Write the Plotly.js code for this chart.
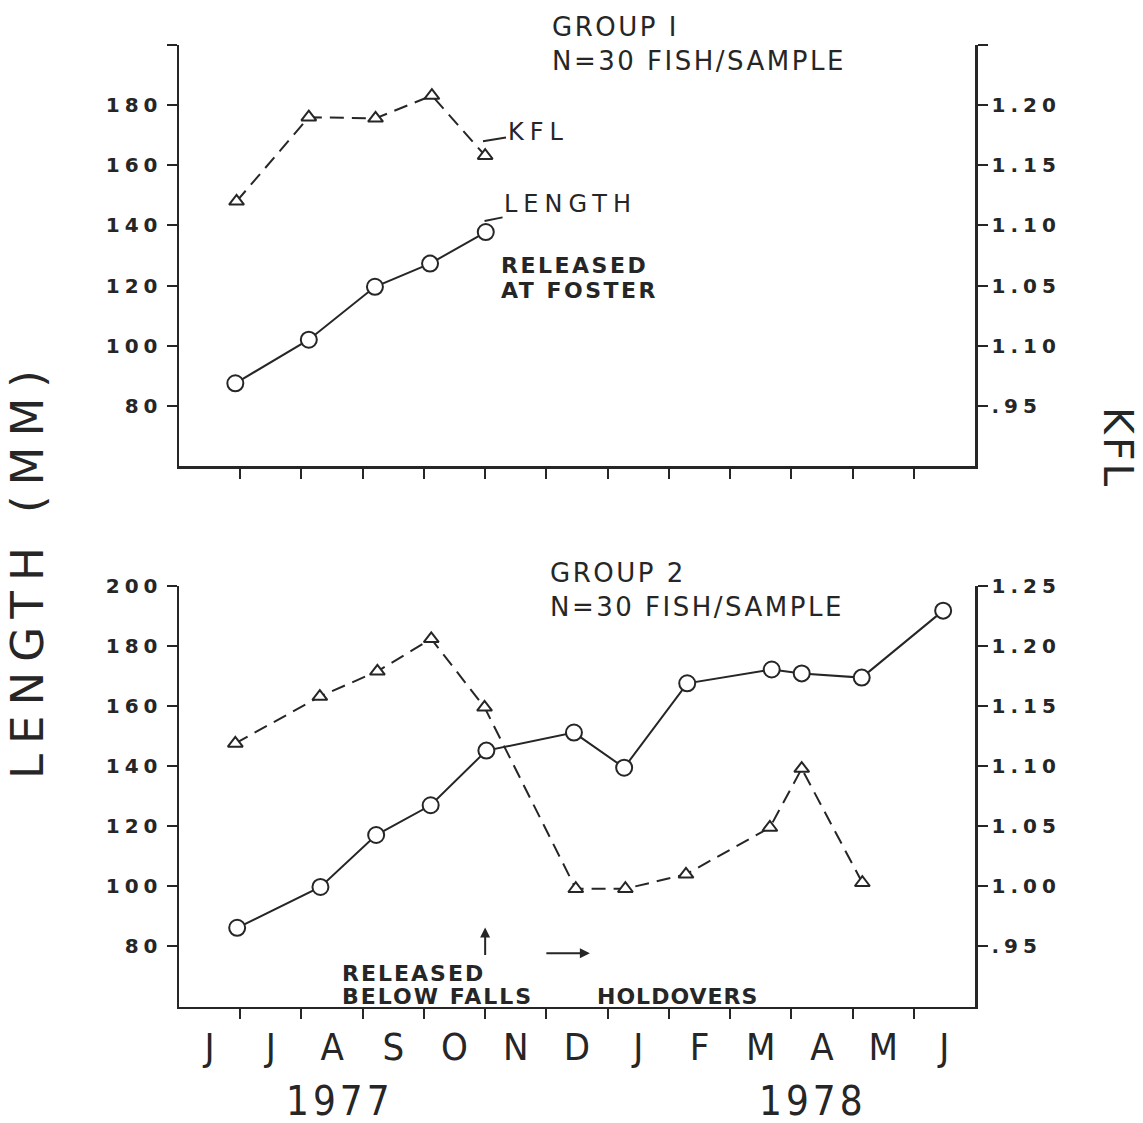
<!DOCTYPE html>
<html>
<head>
<meta charset="utf-8">
<script src="https://cdn.plot.ly/plotly-3.0.1.min.js"></script>
<style>
  html, body { margin: 0; padding: 0; background: #ffffff; }
  #chart { width: 1143px; height: 1123px; }
  g.ytick text, g.y2tick text, g.y3tick text, g.y4tick text { letter-spacing: 5px; }
</style>
</head>
<body>
<div id="chart"></div>
<script>
// ---- DATA (x = months since 1 June 1977) ----
// Group 1
const g1LengthMonth = [0.92, 2.12, 3.20, 4.10, 5.01];
const g1Length      = [87.5, 102.0, 119.6, 127.3, 137.8];
const g1KflMonth    = [0.94, 2.12, 3.21, 4.13, 5.00];
const g1Kfl         = [1.120, 1.190, 1.189, 1.208, 1.158];
// Group 2
const g2LengthMonth = [0.95, 2.31, 3.22, 4.11, 5.02, 6.45, 7.27, 8.30, 9.68, 10.17, 11.15, 12.48];
const g2Length      = [86.2, 99.8, 117.1, 127.0, 145.2, 151.2, 139.5, 167.6, 172.2, 170.9, 169.5, 191.8];
const g2KflMonth    = [0.92, 2.30, 3.24, 4.12, 4.99, 6.48, 7.29, 8.28, 9.65, 10.17, 11.16];
const g2Kfl         = [1.119, 1.158, 1.179, 1.206, 1.149, 0.998, 0.998, 1.010, 1.049, 1.098, 1.003];

// ---- TICKS ----
const monthLabels   = ["J","J","A","S","O","N","D","J","F","M","A","M","J"];
const monthCenters  = [0.5,1.5,2.5,3.5,4.5,5.5,6.5,7.5,8.5,9.5,10.5,11.5,12.5];
const monthBounds   = [1,2,3,4,5,6,7,8,9,10,11,12];
const lengthTickVals      = [80,100,120,140,160,180,200];
const lengthTickTextTop   = ["80","100","120","140","160","180",""];
const lengthTickTextBot   = ["80","100","120","140","160","180","200"];
const kflTickVals         = [0.95,1.00,1.05,1.10,1.15,1.20,1.25];
const kflTickTextTop      = [".95","1.10","1.05","1.10","1.15","1.20",""];
const kflTickTextBot      = [".95","1.00","1.05","1.10","1.15","1.20","1.25"];

const INK = "#262626";
const SANS = "DejaVu Sans, Verdana, sans-serif";
const NARROW = "Liberation Sans Narrow, DejaVu Sans Condensed, Roboto Condensed, Arial Narrow, sans-serif";

function lenTrace(x, y, xa, ya) {
  return { x: x, y: y, xaxis: xa, yaxis: ya, type: "scatter", mode: "lines+markers",
    line: { color: INK, width: 2 },
    marker: { symbol: "circle", size: 16, color: "#ffffff", line: { color: INK, width: 2 } },
    cliponaxis: false, showlegend: false, hoverinfo: "x+y" };
}
function kflTrace(x, y, xa, ya) {
  return { x: x, y: y, xaxis: xa, yaxis: ya, type: "scatter", mode: "lines+markers",
    line: { color: INK, width: 2, dash: "14px,8px" },
    marker: { symbol: "triangle-up", size: 13, color: "#ffffff", line: { color: INK, width: 2 } },
    cliponaxis: false, showlegend: false, hoverinfo: "x+y" };
}

const data = [
  lenTrace(g1LengthMonth, g1Length, "x", "y"),
  kflTrace(g1KflMonth, g1Kfl, "x", "y2"),
  lenTrace(g2LengthMonth, g2Length, "x2", "y3"),
  kflTrace(g2KflMonth, g2Kfl, "x2", "y4")
];

const W = 1143, H = 1123;
const xDom = [179 / W, 975 / W];
const topDom = [1 - 466 / H, 1 - 45 / H];
const botDom = [1 - 1006.5 / H, 1 - 586 / H];

const tickFont = { family: SANS, size: 20, color: INK, weight: "bold" };
const baseAxis = { showgrid: false, zeroline: false, showline: true, linecolor: INK, linewidth: 2.5,
  ticks: "outside", ticklen: 10, tickwidth: 2, tickcolor: INK, fixedrange: true };

const px = v => v / W, py = v => 1 - v / H;
function txt(s, x, y, size, opts) {
  return Object.assign({ text: s, x: px(x), y: py(y), xref: "paper", yref: "paper",
    showarrow: false, xanchor: "left", yanchor: "middle",
    font: { family: SANS, size: size, color: INK } }, opts || {});
}
const sp = (s, n) => '<span style="letter-spacing:' + n + 'px">' + s + '</span>';
const BOLD = { family: SANS, size: 22, color: INK, weight: "bold" };

const layout = {
  width: W, height: H,
  margin: { l: 0, r: 0, t: 0, b: 0 },
  paper_bgcolor: "#ffffff", plot_bgcolor: "rgba(0,0,0,0)",
  showlegend: false,
  xaxis: Object.assign({}, baseAxis, { domain: xDom, range: [0, 13], anchor: "y",
    tickmode: "array", tickvals: monthBounds, showticklabels: false }),
  yaxis: Object.assign({}, baseAxis, { domain: topDom, range: [60, 200], anchor: "x",
    tickmode: "array", tickvals: lengthTickVals, ticktext: lengthTickTextTop, tickfont: tickFont }),
  yaxis2: Object.assign({}, baseAxis, { overlaying: "y", side: "right", anchor: "x", range: [0.90, 1.25],
    tickmode: "array", tickvals: kflTickVals, ticktext: kflTickTextTop, tickfont: tickFont }),
  xaxis2: Object.assign({}, baseAxis, { domain: xDom, range: [0, 13], anchor: "y3",
    tickmode: "array", tickvals: monthCenters, ticktext: monthLabels, ticks: "",
    tickfont: { family: NARROW, size: 38, color: INK }, ticklabelstandoff: 5,
    minor: { tickmode: "array", tickvals: monthBounds, ticks: "outside", ticklen: 10, tickwidth: 2, tickcolor: INK } }),
  yaxis3: Object.assign({}, baseAxis, { domain: botDom, range: [60, 200], anchor: "x2",
    tickmode: "array", tickvals: lengthTickVals, ticktext: lengthTickTextBot, tickfont: tickFont }),
  yaxis4: Object.assign({}, baseAxis, { overlaying: "y3", side: "right", anchor: "x2", range: [0.90, 1.25],
    tickmode: "array", tickvals: kflTickVals, ticktext: kflTickTextBot, tickfont: tickFont }),
  annotations: [
    txt(sp("GROUP I", 2.5) + "<br>" + sp("N=30 FISH/SAMPLE", 2.5), 550, 44, 26, { align: "left" }),
    txt(sp("GROUP 2", 2.5) + "<br>" + sp("N=30 FISH/SAMPLE", 2.5), 548, 590, 26, { align: "left" }),
    // series labels with leader lines (data coords of group 1)
    { text: sp("KFL", 6), x: 4.965, y: 168, xref: "x", yref: "y", showarrow: true, arrowhead: 0,
      arrowwidth: 2, arrowcolor: INK, ax: 55, ay: -9, font: { family: SANS, size: 24, color: INK } },
    { text: sp("LENGTH", 6), x: 4.99, y: 141.5, xref: "x", yref: "y", showarrow: true, arrowhead: 0,
      arrowwidth: 2, arrowcolor: INK, ax: 86, ay: -17, font: { family: SANS, size: 24, color: INK } },
    txt(sp("RELEASED", 2.5), 499, 265, 22, { font: BOLD }),
    txt(sp("AT FOSTER", 2.5), 499, 290.5, 22, { font: BOLD }),
    txt(sp("RELEASED", 2), 340, 973.5, 22, { font: BOLD }),
    txt(sp("BELOW FALLS", 2), 340, 996.5, 22, { font: BOLD }),
    txt(sp("HOLDOVERS", 1), 595, 996.5, 22, { font: BOLD }),
    // arrows
    { text: "", x: 5.0, y: 86.3, xref: "x2", yref: "y3", showarrow: true, arrowhead: 2, arrowsize: 1,
      arrowwidth: 2, arrowcolor: INK, ax: 0, ay: 29 },
    { text: "", x: 6.71, y: 77.7, xref: "x2", yref: "y3", showarrow: true, arrowhead: 2, arrowsize: 1,
      arrowwidth: 2, arrowcolor: INK, ax: -45, ay: 0 },
    // years
    txt(sp("1977", 4), 340, 1101, 40, { xanchor: "center", font: { family: NARROW, size: 40, color: INK } }),
    txt(sp("1978", 4), 813, 1101, 40, { xanchor: "center", font: { family: NARROW, size: 40, color: INK } }),
    // axis titles
    txt(sp("LENGTH (MM)", 10), 27, 570, 45, { xanchor: "center", textangle: -90 }),
    txt(sp("KFL", 3), 1118, 448, 41, { xanchor: "center", textangle: 90 })
  ]
};

Plotly.newPlot("chart", data, layout, { displayModeBar: false, staticPlot: true });
</script>
</body>
</html>
